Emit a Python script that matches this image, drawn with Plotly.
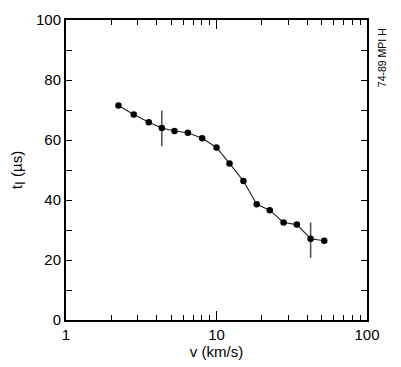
import plotly.graph_objects as go

velocity_kms = [2.23, 2.82, 3.55, 4.33, 5.26, 6.45, 8.03, 10.0, 12.2, 15.1,
                18.5, 22.6, 27.9, 34.2, 42.2, 52.0]
t_ionization_us = [71.5, 68.5, 65.9, 64.0, 63.0, 62.4, 60.6, 57.5, 52.2, 46.3,
                   38.6, 36.6, 32.5, 31.8, 27.1, 26.4]
errbar_v = [4.33, 42.2]
errbar_t = [64.0, 27.1]
errbar_plus = [5.8, 5.4]
errbar_minus = [6.1, 6.4]

x_major = [1, 10, 100]
x_minor = [2, 3, 4, 5, 6, 7, 8, 9, 20, 30, 40, 50, 60, 70, 80, 90]
y_major = [0, 20, 40, 60, 80, 100]

FONT = "Liberation Sans"

fig = go.Figure()
fig.add_trace(go.Scatter(
    x=errbar_v, y=errbar_t, mode="markers",
    marker=dict(size=1, color="rgba(0,0,0,0)"),
    error_y=dict(type="data", array=errbar_plus, arrayminus=errbar_minus,
                 color="#555555", thickness=1.6, width=0),
    showlegend=False, hoverinfo="skip"))
fig.add_trace(go.Scatter(
    x=velocity_kms, y=t_ionization_us, mode="lines+markers",
    line=dict(color="#222222", width=1.1),
    marker=dict(size=6.5, color="black"),
    showlegend=False))

fig.update_layout(
    width=393, height=359,
    margin=dict(l=58, r=34, t=12, b=47),
    paper_bgcolor="white", plot_bgcolor="white",
    font=dict(family=FONT, size=15, color="black"),
    xaxis=dict(type="log", range=[0, 2], tickvals=x_major,
               ticktext=["1", "10", "100"], automargin=False,
               ticks="inside", ticklen=9, tickwidth=1.2, tickcolor="black",
               minor=dict(ticks="inside", ticklen=5, tickwidth=1.2,
                          tickcolor="black", tickvals=x_minor, showgrid=False),
               showline=True, linecolor="black", linewidth=2, mirror="ticks",
               showgrid=False, zeroline=False,
               title=dict(text="v (km/s)", standoff=2,
                          font=dict(family=FONT, size=15))),
    yaxis=dict(range=[0, 100], tickvals=y_major, automargin=False,
               ticks="inside", ticklen=6, tickwidth=1.2, tickcolor="black",
               minor=dict(ticks="inside", ticklen=6, tickwidth=1.2,
                          tickcolor="black", dtick=10, showgrid=False),
               showline=True, linecolor="black", linewidth=2, mirror="ticks",
               showgrid=False, zeroline=False,
               title=dict(text="t<sub><span style='font-size:14px'>I</span></sub> (µs)",
                          standoff=13,
                          font=dict(family=FONT, size=15))),
)

fig.add_annotation(text="74-89 MPI H", xref="paper", yref="paper",
                   x=1.05, y=0.873, xanchor="center", yanchor="middle",
                   textangle=-90, showarrow=False,
                   font=dict(family=FONT, size=10.5, color="black"))

fig.write_html("out.html")
